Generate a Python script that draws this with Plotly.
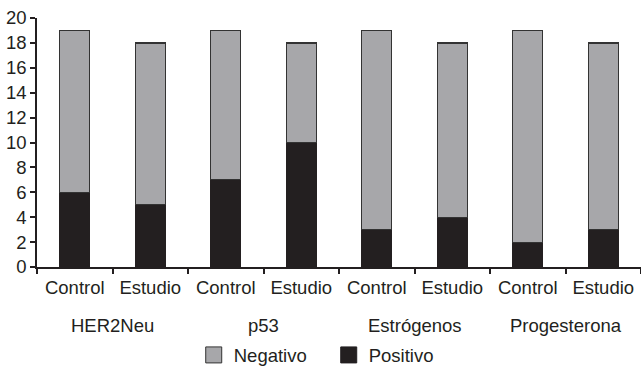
import plotly.graph_objects as go

groups = ["HER2Neu", "p53", "Estrógenos", "Progesterona"]
subcats = ["Control", "Estudio"]
positivo = [6, 5, 7, 10, 3, 4, 2, 3]
negativo = [13, 13, 12, 8, 16, 14, 17, 15]
y_ticks = [0, 2, 4, 6, 8, 10, 12, 14, 16, 18, 20]

n = len(positivo)
xpos = list(range(n))
labels = [subcats[i % 2] for i in range(n)]

font = dict(family="Liberation Sans, Arial, sans-serif", size=18.5, color="#231f20")
neg_color = "#a7a7aa"
pos_color = "#231f20"

fig = go.Figure()
fig.add_trace(go.Bar(x=xpos, y=positivo, name="Positivo", width=0.4, showlegend=False,
                     marker=dict(color=pos_color, line=dict(color=pos_color, width=1))))
fig.add_trace(go.Bar(x=xpos, y=negativo, name="Negativo", width=0.4, showlegend=False,
                     marker=dict(color=neg_color, line=dict(color="#333333", width=1.2))))
# legend entries with larger square symbols
fig.add_trace(go.Scatter(x=[None], y=[None], mode="markers", name="Negativo",
                         marker=dict(symbol="square", size=20, color=neg_color,
                                     line=dict(color="#333333", width=1))))
fig.add_trace(go.Scatter(x=[None], y=[None], mode="markers", name="Positivo",
                         marker=dict(symbol="square", size=20, color=pos_color,
                                     line=dict(color=pos_color, width=1))))

for g_i, g in enumerate(groups):
    fig.add_annotation(x=2 * g_i + 0.5, y=-0.235, xref="x", yref="paper", text=g,
                       showarrow=False, font=font, yanchor="middle")

fig.update_layout(
    barmode="stack",
    width=641, height=372,
    margin=dict(l=37, r=0, t=18, b=105, autoexpand=False),
    paper_bgcolor="white", plot_bgcolor="white",
    font=font,
    showlegend=True,
    legend=dict(orientation="h", x=0.483, xanchor="center", y=-0.355, yanchor="middle",
                font=font, itemwidth=30, traceorder="normal", itemsizing="trace",
                entrywidth=90),
    xaxis=dict(range=[-0.5, n - 0.5], tickvals=xpos, ticktext=labels, ticks="",
               showline=True, linecolor="#231f20", linewidth=1.5, showgrid=False,
               zeroline=False, ticklabelstandoff=3,
               minor=dict(tickvals=[i - 0.5 for i in range(n + 1)], ticks="outside",
                          ticklen=5, tickcolor="#231f20", tickwidth=1.5, showgrid=False)),
    yaxis=dict(range=[0, 20], tickvals=y_ticks, ticks="outside", ticklen=5,
               tickcolor="#231f20", tickwidth=1.5, showline=True, linecolor="#231f20",
               linewidth=1.5, showgrid=False, zeroline=False, ticklabelstandoff=0),
)

fig.write_html("out.html")
